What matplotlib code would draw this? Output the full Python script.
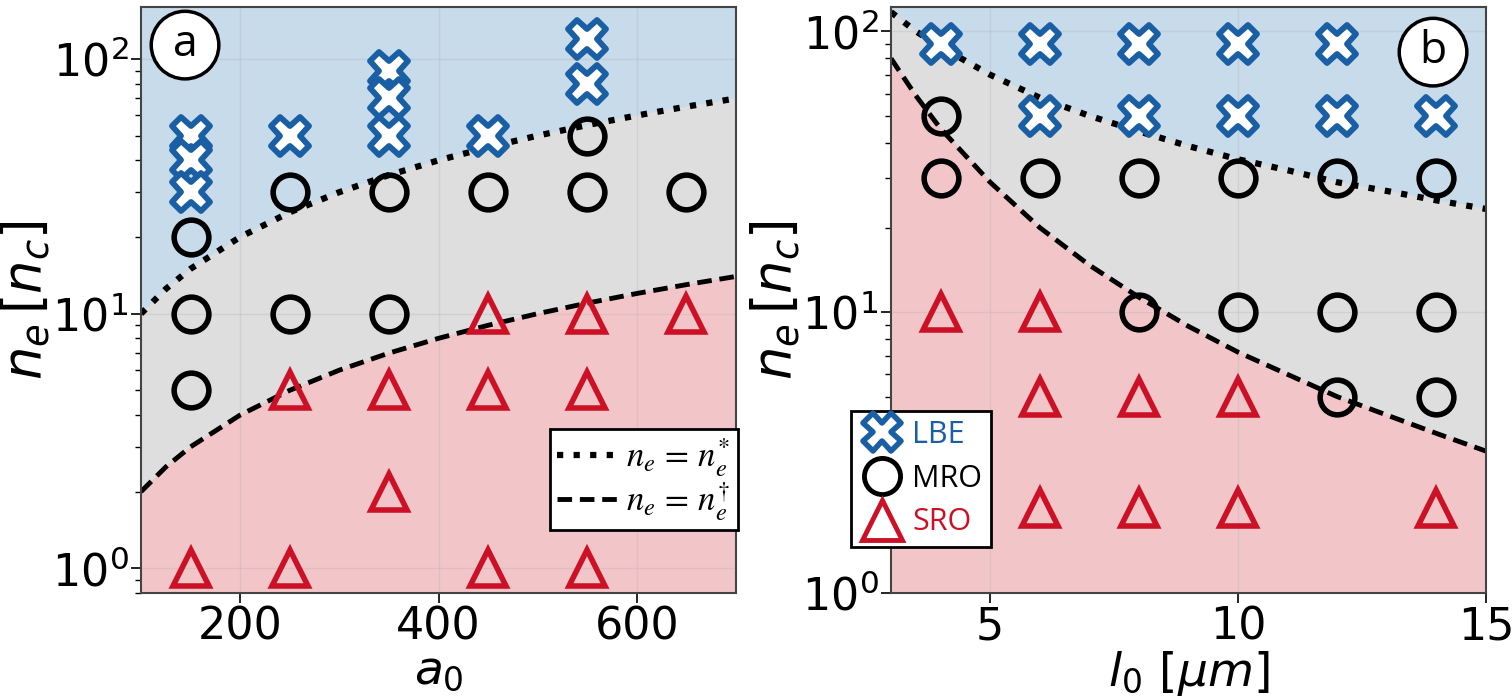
import numpy as np
import matplotlib
matplotlib.use('Agg')
from matplotlib import pyplot as plt
from matplotlib.markers import MarkerStyle
from matplotlib.lines import Line2D
from matplotlib.font_manager import FontProperties

# ---- panel (a): scan in a0 ----
a0_lbe = [150, 150, 150, 250, 350, 350, 350, 450, 550, 550]
ne_lbe_a = [50, 40, 30, 50, 90, 70, 50, 50, 120, 80]
a0_mro = [150, 150, 150, 250, 250, 350, 350, 450, 550, 550, 650]
ne_mro_a = [20, 10, 5, 30, 10, 30, 10, 30, 50, 30, 30]
a0_sro = [150, 250, 250, 350, 350, 450, 450, 450, 550, 550, 550, 650]
ne_sro_a = [1, 5, 1, 5, 2, 10, 5, 1, 10, 5, 1, 10]

# threshold curves
a0_line = [100, 125, 150, 200, 250, 300, 350, 400, 450, 500, 550, 600, 650, 700]
ne_star_a = [10, 12.5, 15, 20, 25, 30, 35, 40, 45, 50, 55, 60, 65, 70]
ne_dag_a = [2, 2.5, 3, 4, 5, 6, 7, 8, 9, 10, 11, 12, 13, 14]

# ---- panel (b): scan in l0 ----
l0_lbe = [4, 6, 6, 8, 8, 10, 10, 12, 12, 14]
ne_lbe_b = [90, 90, 50, 90, 50, 90, 50, 90, 50, 50]
l0_mro = [4, 4, 6, 8, 8, 10, 10, 12, 12, 12, 14, 14, 14]
ne_mro_b = [50, 30, 30, 30, 10, 30, 10, 30, 10, 5, 30, 10, 5]
l0_sro = [4, 6, 6, 6, 8, 8, 10, 10, 14]
ne_sro_b = [10, 10, 5, 2, 5, 2, 5, 2, 2]

l0_line = [3, 3.5, 4, 5, 6, 7, 8, 9, 10, 11, 12, 13, 14, 15]
ne_star_b = [117, 100, 88, 70, 58, 50, 44, 39, 35, 32, 29, 27, 25, 23.3]
ne_dag_b = [80, 59, 45, 29, 20, 14.7, 11.3, 8.9, 7.2, 6.0, 5.0, 4.3, 3.7, 3.2]

c_blue = '#1a5fa3'
c_red = '#cc1126'
f_blue = '#c7dbeb'
f_gray = '#dedede'
f_red = '#f2c6c9'

plt.rcParams.update({'font.family': 'DejaVu Sans', 'font.size': 32})

fig = plt.figure(figsize=(15.12, 7), dpi=100)
ax1 = fig.add_axes([141/1512, 107/700, 595/1512, 586/700])
ax2 = fig.add_axes([891/1512, 107/700, 595/1512, 586/700])

cross = MarkerStyle('X', joinstyle='round')


def draw_points(ax, x1, y1, x2, y2, x3, y3):
    ax.plot(x1, y1, marker=cross, ms=28, mew=4.2, mec=c_blue, mfc='white', ls='none', clip_on=False, zorder=5)
    ax.plot(x2, y2, marker='o', ms=25, mew=4, mec='black', mfc='none', ls='none', zorder=5)
    ax.plot(x3, y3, marker='^', ms=26, mew=4, mec=c_red, mfc='none', ls='none', zorder=5)


def style(ax):
    ax.set_yscale('log')
    ax.grid(True, which='major', color='#b0b0b0', alpha=0.3, lw=1)
    ax.tick_params(which='major', length=7, width=1.2, labelsize=32, pad=2)
    ax.tick_params(which='minor', length=4, width=1)
    for s in ax.spines.values():
        s.set_color('#444444')
        s.set_linewidth(1.5)


# panel (a)
ax1.fill_between(a0_line, ne_star_a, 1000, color=f_blue, lw=1)
ax1.fill_between(a0_line, ne_dag_a, ne_star_a, color=f_gray, lw=1)
ax1.fill_between(a0_line, 0.1, ne_dag_a, color=f_red, lw=1)
ax1.plot(a0_line, ne_star_a, ls=':', lw=4.5, c='black', label=r'$n_e\,=\,n_e^{*}$')
ax1.plot(a0_line, ne_dag_a, ls=(0, (3, 1.6)), lw=3.5, c='black', label=r'$n_e\,=\,n_e^{\dagger}$')
draw_points(ax1, a0_lbe, ne_lbe_a, a0_mro, ne_mro_a, a0_sro, ne_sro_a)
style(ax1)
ax1.set_xlim(100, 700)
ax1.set_ylim(0.8, 160)
ax1.set_xticks([200, 400, 600])
ax1.set_xlabel(r'$a_0$', fontsize=34, labelpad=0)
ax1.set_ylabel(r'$n_e\,[n_c]$', fontsize=38, labelpad=0)
leg1 = ax1.legend(loc='lower left', bbox_to_anchor=((550 - 141) / 595, (593 - 530) / 586),
                  borderaxespad=0, fancybox=False, edgecolor='black', framealpha=1,
                  handlelength=1.75, borderpad=0.2, labelspacing=0.05, handletextpad=0.25,
                  prop=FontProperties(size=25, math_fontfamily='stix'))
leg1.get_frame().set_linewidth(2)
leg1.set_zorder(20)
ax1.text(0.074, 0.935, 'a', transform=ax1.transAxes, ha='center', va='center',
         fontsize=32, family='Open Sans',
         bbox=dict(boxstyle='circle,pad=0.26', fc='white', ec='black', lw=2.5), zorder=10)

# panel (b)
ax2.fill_between(l0_line, ne_star_b, 1000, color=f_blue, lw=1)
ax2.fill_between(l0_line, ne_dag_b, ne_star_b, color=f_gray, lw=1)
ax2.fill_between(l0_line, 0.1, ne_dag_b, color=f_red, lw=1)
ax2.plot(l0_line, ne_star_b, ls=':', lw=4.5, c='black')
ax2.plot(l0_line, ne_dag_b, ls=(0, (3, 1.6)), lw=3.5, c='black')
draw_points(ax2, l0_lbe, ne_lbe_b, l0_mro, ne_mro_b, l0_sro, ne_sro_b)
style(ax2)
ax2.set_xlim(3, 15)
ax2.set_ylim(1, 122)
ax2.set_xticks([5, 10, 15])
ax2.set_xlabel(r'$l_0\ [\mu m]$', fontsize=34, labelpad=0)
ax2.set_ylabel(r'$n_e\,[n_c]$', fontsize=38, labelpad=0)
handles = [Line2D([], [], marker=cross, ms=27, mew=4, mec=c_blue, mfc='white', ls='none'),
           Line2D([], [], marker='o', ms=26, mew=3.5, mec='black', mfc='none', ls='none'),
           Line2D([], [], marker='^', ms=29, mew=3.5, mec=c_red, mfc='none', ls='none')]
leg2 = ax2.legend(handles, ['LBE', 'MRO', 'SRO'], loc='upper left',
                  bbox_to_anchor=(-0.067, 0.311), fancybox=False, edgecolor='black',
                  framealpha=1, handlelength=1.4, borderpad=0.3, labelspacing=0.45,
                  handletextpad=0.3, borderaxespad=0,
                  prop=FontProperties(family='Open Sans', size=22))
leg2.get_frame().set_linewidth(2)
for t, c in zip(leg2.get_texts(), [c_blue, 'black', c_red]):
    t.set_color(c)
ax2.text(0.911, 0.923, 'b', transform=ax2.transAxes, ha='center', va='center',
         fontsize=32, family='Open Sans',
         bbox=dict(boxstyle='circle,pad=0.26', fc='white', ec='black', lw=2.5), zorder=10)

fig.savefig('out.png', dpi=100)
